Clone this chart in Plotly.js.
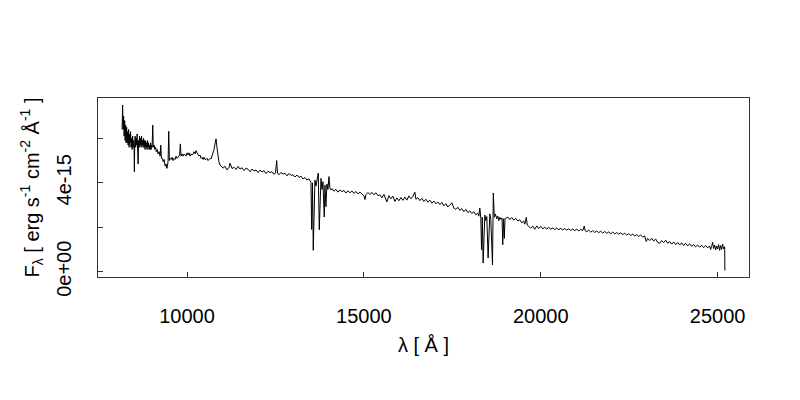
<!DOCTYPE html>
<html><head><meta charset="utf-8">
<script src="https://cdn.plot.ly/plotly-3.0.1.min.js"></script>
<style>html,body{margin:0;padding:0;background:#fff}#chart{width:800px;height:400px}</style>
</head><body><div id="chart"></div>
<script>
// Wavelength in Angstrom
const wavelength = [
8164,8178,8192,8207,8222,8236,8250,8264,8278,8292,8306,8320,8334,8348,8362,8376,8390,8404,8418,8432,8447,8461,8475,8489,8503,8511,8520,8533,8546,8560,8574,8588,8602,8616,8630,8644,8658,8672,8686,8700,8714,8729,8743,8757,8771,8785,8799,8813,8827,8842,8856,8870,8884,8898,8912,8926,8940,8955,8969,8983,8997,9011,9030,9045,9068,9090,9110,9130,9155,9181,9210,9238,9257,9275,9300,9325,9351,9380,9407,9430,9450,9464,9482,9500,9520,9550,9577,9605,9633,9660,9690,9718,9746,9775,9790,9810,9830,9859,9888,9916,9944,9972,10000,10029,10057,10085,10114,10142,10170,10198,10227,10255,10283,10311,10340,10368,10396,10424,10453,10481,10509,10537,10566,10594,10622,10650,10679,10707,10735,10763,10790,10820,10845,10870,10900,10933,
10961,11017,11074,11130,11187,11215,11272,11328,11385,11441,11498,11554,11611,11667,11724,11780,11837,11893,11950,12006,12063,12119,12176,12232,12289,12345,12402,12458,12500,12534,12557,12599,12656,12712,12769,12825,12882,12938,12995,13051,13108,13164,13221,13277,13334,13390,13447,
13475,13503,13523,13546,13568,13594,13616,13645,13673,13710,13738,13766,13786,13814,13842,13879,13899,13927,13955,13983,14012,14040,14068,
14096,14153,14210,14266,14323,14379,14436,14492,14549,14605,14662,14718,14775,14831,14888,14944,15001,15029,15057,15114,15170,15227,15283,15340,15396,15453,15509,15566,15622,15650,15707,15763,15820,15876,15933,15989,16046,16102,16159,16215,16272,16328,16385,16441,16470,16526,16583,16639,16696,16752,16809,16865,16922,16978,17035,17091,17148,17204,17261,17317,17374,17430,17487,17543,17600,17656,17713,17769,17826,17882,17939,17995,18052,18108,18165,18221,
18249,18278,18306,18326,18348,18371,18397,18419,18447,18475,18512,18540,18560,18588,18636,18659,18687,18715,18758,18786,18814,18843,18871,18905,18926,18948,18970,18990,
19012,19069,19125,19182,19238,19295,19351,19408,19464,19521,19549,19591,19619,19662,19718,19775,19831,19888,19944,20001,20057,20114,20170,20227,20283,20340,20396,20453,20509,20566,20622,20679,20735,20792,20848,20905,20961,21018,21074,21131,21187,21230,21258,21301,21357,21414,21470,21527,21583,21640,21696,21753,21809,21866,21922,21979,22035,22092,22148,22205,22261,22318,22374,22431,22487,22544,22600,22657,22713,22770,22826,22883,22939,22982,23024,23080,23137,23193,23250,23306,23363,23419,23476,23532,23589,23645,23702,23758,23815,23871,23928,23984,24041,24097,24154,24210,24267,24323,24380,24436,24493,24549,24606,24662,24719,24775,24803,24832,24860,24888,24917,24945,24973,25002,25030,25058,25086,25115,25143,25171,25200,25206
];
// Flux F_lambda in units of 1e-15 erg s^-1 cm^-2 A^-1
const flux_1e15 = [
6.4,7.5,6.4,7.0,6.1,6.8,5.9,6.6,5.8,6.5,5.8,6.3,5.7,6.4,5.6,6.2,5.8,6.3,5.6,6.0,5.5,6.1,5.6,5.9,5.5,4.5,5.8,6.1,5.6,6.0,5.7,6.2,5.6,4.85,5.9,5.6,6.1,5.7,6.0,5.6,6.1,5.7,5.9,5.6,6.0,5.6,5.9,5.5,5.9,5.6,5.8,5.5,5.9,5.6,5.8,5.5,5.7,5.5,5.8,5.5,5.7,5.6,6.6,5.6,5.7,5.5,5.6,5.4,5.5,5.3,5.4,5.2,5.7,5.1,5.1,4.95,5.05,4.75,4.85,4.65,4.8,5.0,6.32,5.0,5.1,5.05,5.15,5.0,5.1,5.05,5.2,5.1,5.15,5.2,5.25,5.75,5.2,5.3,5.2,5.3,5.25,5.2,5.35,5.25,5.35,5.2,5.3,5.25,5.3,5.4,5.3,5.45,5.35,5.3,5.2,5.25,5.1,5.15,5.05,5.15,5.05,5.05,5.1,5.0,5.05,5.1,5.08,5.2,5.35,5.5,5.75,5.98,5.6,5.26,4.95,4.8,
4.76,4.66,4.74,4.58,4.70,4.88,4.64,4.70,4.60,4.74,4.62,4.68,4.55,4.66,4.61,4.50,4.62,4.53,4.58,4.46,4.57,4.49,4.55,4.41,4.52,4.46,4.50,4.38,4.45,5.00,4.44,4.36,4.47,4.39,4.43,4.31,4.42,4.33,4.37,4.26,4.35,4.24,4.30,4.17,4.24,4.12,4.18,
4.10,4.02,1.9,4.0,0.96,3.9,4.12,3.85,4.15,4.44,1.89,4.0,4.2,3.7,4.05,2.46,3.9,2.93,3.95,3.7,4.28,3.75,3.68,
3.74,3.62,3.71,3.58,3.68,3.60,3.66,3.54,3.64,3.55,3.63,3.52,3.61,3.50,3.58,3.48,3.42,3.25,3.47,3.56,3.48,3.57,3.46,3.55,3.42,3.46,3.32,3.48,3.26,3.14,3.42,3.28,3.40,3.16,3.32,3.19,3.34,3.21,3.36,3.22,3.41,3.28,3.38,3.58,3.26,3.33,3.20,3.30,3.16,3.26,3.13,3.22,3.08,3.18,3.05,3.14,3.02,3.12,2.96,3.06,2.91,3.02,3.10,2.86,2.80,2.90,2.76,2.84,2.70,2.80,2.66,2.74,2.62,2.70,2.56,2.64,
2.50,2.86,2.40,0.99,2.45,0.39,2.35,2.55,2.30,2.48,0.62,2.40,2.60,2.35,0.31,3.54,2.45,2.60,2.38,2.50,2.30,2.45,2.35,2.42,1.21,2.38,1.5,2.40,
2.40,2.46,2.34,2.44,2.32,2.40,2.28,2.34,2.20,2.28,2.14,2.44,2.10,2.04,1.96,2.05,1.91,2.06,1.94,2.04,1.93,2.00,1.92,1.99,1.91,1.97,1.90,1.96,1.89,1.95,1.88,1.94,1.87,1.93,1.86,1.92,1.85,1.91,1.84,1.90,1.85,2.05,1.84,1.80,1.87,1.78,1.85,1.77,1.83,1.76,1.82,1.74,1.81,1.73,1.79,1.71,1.78,1.70,1.76,1.69,1.75,1.67,1.73,1.65,1.71,1.63,1.69,1.61,1.67,1.59,1.65,1.56,1.61,1.36,1.50,1.40,1.50,1.38,1.47,1.32,1.28,1.40,1.31,1.42,1.28,1.36,1.24,1.34,1.22,1.32,1.20,1.30,1.18,1.28,1.16,1.26,1.14,1.22,1.12,1.20,1.10,1.19,1.08,1.18,1.07,1.16,1.00,1.14,1.32,1.04,1.20,0.98,1.16,1.02,1.22,0.96,1.18,1.00,1.24,1.03,1.12,0.05
];
const xTickVals = [10000, 15000, 20000, 25000];
const xTickText = ["10000", "15000", "20000", "25000"];
const yTickVals = [0, 2, 4, 6];
const yTickText = ["0e+00", "", "4e-15", ""];

const FONT = '"Liberation Sans", Arial, Helvetica, sans-serif';

const trace = {
  x: wavelength, y: flux_1e15, type: 'scatter', mode: 'lines',
  line: {color: '#000000', width: 1}, hoverinfo: 'skip'
};

const layout = {
  width: 800, height: 400,
  margin: {l: 98, r: 51, t: 98, b: 123},
  paper_bgcolor: '#ffffff', plot_bgcolor: '#ffffff',
  font: {family: FONT, size: 20, color: '#000000'},
  showlegend: false,
  xaxis: {
    range: [7482, 25888], tickmode: 'array', tickvals: xTickVals, ticktext: xTickText,
    ticks: 'inside', ticklen: 5, tickcolor: '#333333', tickwidth: 1,
    showline: true, linecolor: '#333333', linewidth: 1, mirror: true,
    showgrid: false, zeroline: false, ticklabelstandoff: 21,
    tickfont: {family: FONT, size: 20},
    title: {text: 'λ [ Å ]', font: {family: FONT, size: 20}, standoff: 11}
  },
  yaxis: {
    range: [-0.238, 7.816], tickmode: 'array', tickvals: yTickVals, ticktext: yTickText,
    ticks: 'inside', ticklen: 5, tickcolor: '#333333', tickwidth: 1,
    showline: true, linecolor: '#333333', linewidth: 1, mirror: true,
    showgrid: false, zeroline: false, tickangle: -90, ticklabelstandoff: 18,
    tickfont: {family: FONT, size: 20},
    title: {text: 'F<sub>λ</sub> [ erg s<sup>-1</sup> cm<sup>-2</sup> Å<sup>-1</sup> ]', font: {family: FONT, size: 20}, standoff: 8}
  }
};

Plotly.newPlot('chart', [trace], layout, {displayModeBar: false, staticPlot: true});
</script>
</body></html>
